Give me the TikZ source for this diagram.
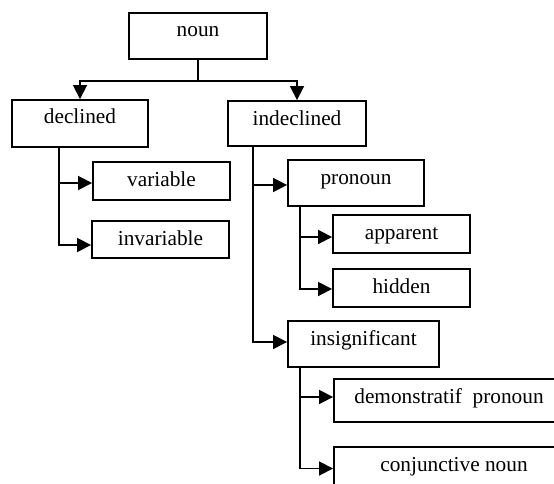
\documentclass[tikz,border=0pt]{standalone}
\usepackage{fontspec}
\setmainfont{Liberation Serif}
\usetikzlibrary{arrows.meta}
\tikzset{
  box/.style 2 args={draw, line width=1.9pt, inner sep=0pt, minimum width=#1,
    text height=24pt, text depth=#2, align=center,
    font=\fontsize{21.3}{24}\selectfont},
  conn/.style={line width=1.8pt},
  arr/.style={conn, -{Triangle[length=14pt,width=14pt]}}
}
\begin{document}
\begin{tikzpicture}[x=1pt,y=-1pt]
\useasboundingbox (0,0) rectangle (554,484);
\clip (0,0) rectangle (554,484);
\node[box={138pt}{22pt}] (noun) at (198,36) {noun};
\node[box={136pt}{23pt}] (declined) at (80,123.5) {declined};
\node[box={138pt}{21pt}] (indeclined) at (297,123.5) {indeclined};
\node[box={137pt}{14pt}] (variable) at (161.5,181) {variable};
\node[box={137pt}{13pt}] (invariable) at (160.5,239.5) {invariable};
\node[box={136pt}{22pt}] (pronoun) at (356,183) {pronoun};
\node[box={137pt}{14pt}] (apparent) at (401.5,234) {apparent};
\node[box={137pt}{14pt}] (hidden) at (401.5,288) {hidden};
\node[box={151pt}{22pt}] (insignificant) at (363.5,344) {insignificant};
\node[box={230pt}{19pt}] (demonstratif) at (449,400.5) {demonstratif\ \ pronoun};
\node[box={240pt}{19pt}] (conjunctive) at (454,468.5) {conjunctive noun};
% noun to its two children
\draw[arr] (noun.south) -- ++(0,21) -| (declined.north);
\draw[arr] (noun.south) -- ++(0,21) -| (indeclined.north);
% declined
\draw[arr] ([xshift=48pt]declined.south west) |- ([yshift=-2pt]variable.west);
\draw[arr] ([xshift=48pt]declined.south west) |- ([yshift=-5.5pt]invariable.west);
% indeclined
\draw[arr] ([xshift=26pt]indeclined.south west) |- ([yshift=-2pt]pronoun.west);
\draw[arr] ([xshift=26pt]indeclined.south west) |- ([yshift=2pt]insignificant.west);
% pronoun
\draw[arr] ([xshift=13pt]pronoun.south west) |- ([yshift=-3pt]apparent.west);
\draw[arr] ([xshift=13pt]pronoun.south west) |- ([yshift=-1pt]hidden.west);
% insignificant
\draw[arr] ([xshift=13pt]insignificant.south west) |- ([yshift=3.5pt]demonstratif.west);
\draw[arr] ([xshift=13pt]insignificant.south west) |- (conjunctive.west);
\end{tikzpicture}
\end{document}
